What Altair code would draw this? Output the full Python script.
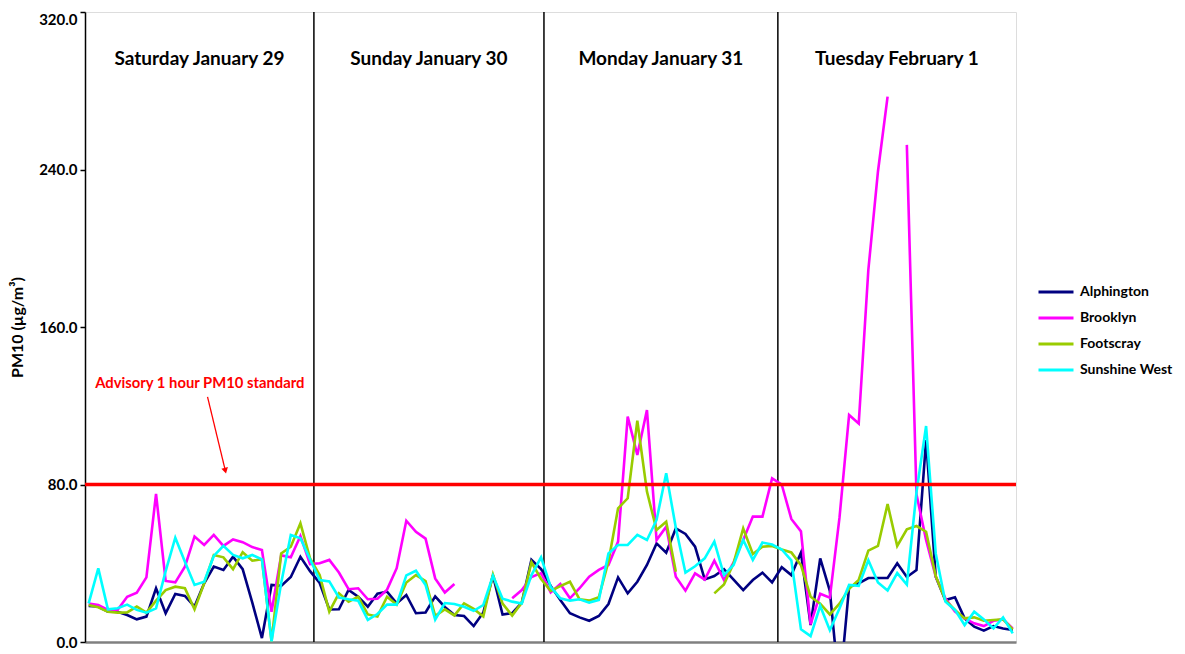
import altair as alt
import pandas as pd

# hourly index (0 = first reading on Sat 29 Jan, 96 = last reading on Tue 1 Feb)
hours = list(range(97))
stations = ["Alphington", "Brooklyn", "Footscray", "Sunshine West"]
colors = ["#000080", "#FF00FF", "#99CC00", "#00FFFF"]

N = None
alphington = [18.3, 18, 15.4, 15.4, 13.7, 11.5, 12.9, 27.3, 14.6, 24.4,
              23.4, 18, 29.8, 38.3, 36.6, 43.3, 37, 20, 2, 29,
              28.5, 33, 43.3, 36, 30, 16.5, 16.6, 26.4, 23, 17.9,
              24.5, 25.6, 19.6, 23.9, 14.6, 15, 23.2, 17.8, 13.7, 13.2,
              8.1, 15, 33.8, 14, 14.7, 20, 41.7, 37, 28.5, 21.3,
              14.6, 12.5, 10.8, 13.2, 19.3, 32.8, 24.7, 30.6, 39.1, 50.1,
              45.4, 57.7, 54.9, 48.4, 31.8, 33.5, 37, 31.7, 26.4, 31.5,
              35.2, 30.3, 38, 34, 45.4, 8.6, 42.5, 26, -25, 28,
              29.8, 32.5, 32.5, 32.5, 40, 33, 36.5, 102.6, 33.2, 21.3,
              22.7, 12, 7.8, 5.8, 8.1, 6.9, 6.1]
brooklyn = [19.6, 18.8, 16.3, 16.3, 23, 25, 32.8, 75.2, 31, 30.3,
            38.3, 53.6, 49.3, 54.4, 48.8, 52.1, 50.7, 48.2, 46.7, 15.4,
            44, 43, 53.8, 39.6, 40, 41.7, 35.3, 26.8, 27.3, 21.7,
            22, 26.6, 37.5, 61.6, 56, 52.5, 32.3, 25.1, 29.5, N,
            N, N, N, N, 22.2, 26.4, 33, 35, 25.2, 29.5,
            22.2, 27.3, 33.2, 36.6, 39.1, 51, 114.5, 95, 117.8, 51.8,
            58.6, 33.2, 26.1, 34.9, 31.7, 41.3, 31.5, 40.5, 51.8, 63.7,
            63.7, 83.1, 80, 62.5, 56.2, 9, 24.5, 22.5, 63, 115.3,
            111, 189, 239, 277, N, 252.5, 75, 51.8, 33.2, 22.2,
            15.4, 12, 9.5, 8.1, 10.8, 11.5, 6.9]
footscray = [18.8, 17.6, 15.4, 14.9, 15, 18, 14.9, 21, 26.4, 28.1,
             27.3, 16.6, 29.8, 44.2, 43, 37, 45.6, 41.3, 42, 0.3,
             45, 48.4, 60.3, 42.5, 34, 15.4, 24.7, 20.5, 23, 14,
             12.9, 23, 19, 30.2, 34, 31, 13.3, 16.6, 13.5, 19.6,
             16.8, 13, 34.3, 19.5, 13.4, 20, 40.5, 32, 26, 28.4,
             30.6, 21.7, 21, 22.7, 40.8, 67.9, 73, 112.4, 76.4, 56.9,
             61.1, 35.7, N, N, N, 24.7, 29.2, 40, 57.7, 44.7,
             48.4, 48.8, 47, 45.5, 39, 23, 19.5, 14, 19.5, 27,
             31.5, 46.4, 48.8, 70.1, 48.8, 57.2, 58.9, 56, 33.5, 21.3,
             16.3, 12, 12.5, 10.8, 11.2, 11.5, 6.4]
sunshine_west = [19.6, 37.4, 16.6, 17.1, 19, 16.3, 14.9, 17.1, 36, 53,
                 40.8, 29, 30.6, 43.7, 48.8, 44.2, 42.5, 44.2, 42, 0.3,
                 30, 54.4, 52.7, 42, 31.5, 30.8, 22.6, 21.7, 21, 11.2,
                 14.2, 19, 19, 33.8, 36.2, 29, 11.3, 19.8, 19.3, 17.9,
                 15.8, 18.8, 33.7, 22, 20.5, 19.5, 34, 43, 28, 22.2,
                 21, 21.7, 20, 21.3, 45, 49.3, 49.3, 54.4, 51.8, 62,
                 85.7, 58, 35.2, 38.5, 42.5, 51, 34, 39.1, 51.8, 41.7,
                 50.5, 49.5, 47, 41.5, 6.5, 3, 18.3, 6, 17, 29,
                 28.5, 41.5, 30.2, 26.2, 35, 29.2, 76, 109.7, 45, 20.5,
                 16.3, 8.6, 15.4, 11.5, 6.9, 12.5, 4.4]

day_names = ["Saturday January 29", "Sunday January 30",
             "Monday January 31", "Tuesday February 1"]
day_breaks = [23.4, 47.3, 71.6]          # midnight separators (hour index)
x_domain = [-0.38, 96.34]
y_ticks = [0, 80, 160, 240, 320]
standard = 80
advisory_text = "Advisory 1 hour PM10 standard"

# ---- tables built from the arrays ----
rows = []
for name, vals in zip(stations, [alphington, brooklyn, footscray, sunshine_west]):
    seg = 0
    for h, v in zip(hours, vals):
        if v is None:
            seg += 1
            continue
        rows.append({"hour": h, "pm10": v, "station": name, "seg": f"{name}-{seg}"})
df = pd.DataFrame(rows)

edges = [x_domain[0]] + day_breaks + [x_domain[1]]
days_df = pd.DataFrame({"hour": [(edges[i] + edges[i + 1]) / 2 for i in range(4)],
                        "pm10": [296.0] * 4, "label": day_names})
breaks_df = pd.DataFrame({"hour": day_breaks})
std_df = pd.DataFrame({"pm10": [standard]})
note_df = pd.DataFrame({"hour": [11.55], "pm10": [131], "label": [advisory_text]})
arrow_df = pd.DataFrame({"hour": [12.35], "pm10": [124.5], "hour2": [14.2], "pm102": [87.0]})
head_df = pd.DataFrame({"hour": [14.2], "pm10": [87.0]})

xs = alt.Scale(domain=x_domain, nice=False, zero=False)
ys = alt.Scale(domain=[0, 320], nice=False)
FONT = "Lato"

lines = alt.Chart(df).mark_line(strokeWidth=2.6, clip=True).encode(
    x=alt.X("hour:Q", scale=xs,
            axis=alt.Axis(title=None, labels=False, ticks=False, grid=False,
                          domainColor="#808080", domainWidth=2.5)),
    y=alt.Y("pm10:Q", scale=ys,
            axis=alt.Axis(title="PM10 (µg/m³)", values=y_ticks, format=".1f",
                          grid=False, tickSize=5, tickColor="black",
                          domainColor="black", domainWidth=1.5, tickWidth=1.5,
                          labelFontWeight="bold", labelFontSize=15, labelColor="black",
                          labelFont=FONT, labelPadding=3,
                          labelBaseline=alt.condition("datum.value == 320",
                                                      alt.value("top"), alt.value("middle")),
                          titleFont=FONT, titleFontSize=16, titleFontWeight="bold",
                          titleColor="black", titlePadding=13)),
    color=alt.Color("station:N", scale=alt.Scale(domain=stations, range=colors),
                    legend=alt.Legend(title=None, orient="none", legendX=952, legendY=261,
                                      symbolType="stroke", symbolStrokeWidth=3,
                                      symbolSize=1225, rowPadding=0, padding=0,
                                      labelFont=FONT, labelFontSize=14,
                                      labelFontWeight="bold", labelColor="black",
                                      labelOffset=5)),
    detail="seg:N",
    order="hour:Q",
)

dividers = alt.Chart(breaks_df).mark_rule(color="black", strokeWidth=1.5).encode(
    x=alt.X("hour:Q", scale=xs))

std_line = alt.Chart(std_df).mark_rule(color="#FF0000", strokeWidth=3.5).encode(
    y=alt.Y("pm10:Q", scale=ys))

day_text = alt.Chart(days_df).mark_text(font=FONT, fontSize=19, fontWeight="bold",
                                        color="black", align="center", baseline="middle").encode(
    x=alt.X("hour:Q", scale=xs), y=alt.Y("pm10:Q", scale=ys), text="label:N")

note = alt.Chart(note_df).mark_text(font=FONT, fontSize=14.8, fontWeight="bold",
                                    color="#FF0000", align="center", baseline="middle").encode(
    x=alt.X("hour:Q", scale=xs), y=alt.Y("pm10:Q", scale=ys), text="label:N")

arrow = alt.Chart(arrow_df).mark_rule(color="#FF0000", strokeWidth=1.3).encode(
    x=alt.X("hour:Q", scale=xs), y=alt.Y("pm10:Q", scale=ys),
    x2="hour2:Q", y2="pm102:Q")

head = alt.Chart(head_df).mark_point(shape="triangle-up", angle=166.3, filled=True,
                                     size=45, color="#FF0000", opacity=1).encode(
    x=alt.X("hour:Q", scale=xs), y=alt.Y("pm10:Q", scale=ys))

chart = alt.layer(dividers, lines, std_line, day_text, note, arrow, head).properties(
    width=931, height=630,
    autosize=alt.AutoSizeParams(type="none"),
    padding={"left": 77, "top": 4, "right": 160, "bottom": 8},
).configure_view(stroke="black", strokeWidth=1.5).configure(background="white")

chart.save("out.html", embed_options={"renderer": "svg", "actions": False})
